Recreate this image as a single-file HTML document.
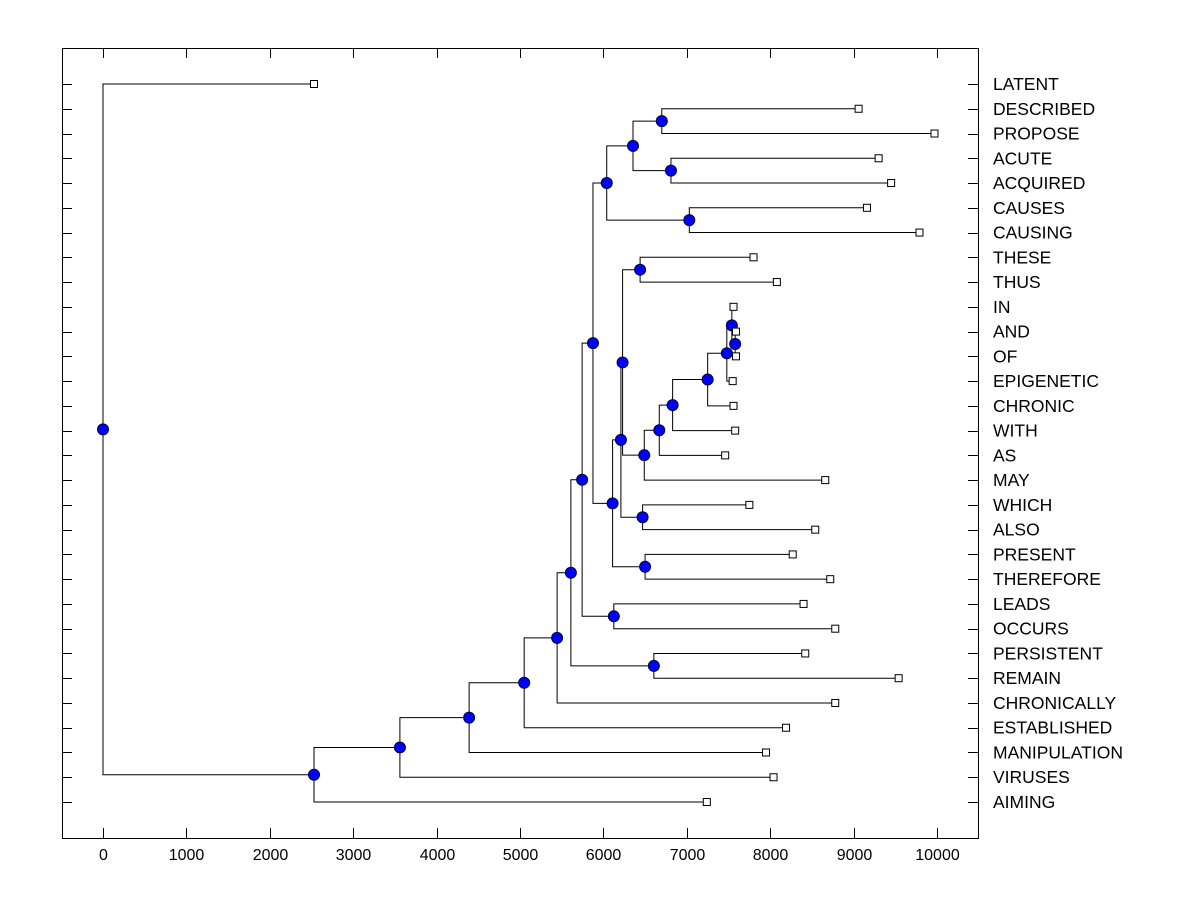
<!DOCTYPE html>
<html><head><meta charset="utf-8"><style>
html,body{margin:0;padding:0;background:#fff;}
svg{display:block;font-family:"Liberation Sans",Arial,sans-serif;}
</style></head><body>
<svg id="chart" width="1200" height="900"></svg>
<script>
const labels=["LATENT","DESCRIBED","PROPOSE","ACUTE","ACQUIRED","CAUSES","CAUSING","THESE","THUS","IN","AND","OF","EPIGENETIC","CHRONIC","WITH","AS","MAY","WHICH","ALSO","PRESENT","THEREFORE","LEADS","OCCURS","PERSISTENT","REMAIN","CHRONICALLY","ESTABLISHED","MANIPULATION","VIRUSES","AIMING"];
const leafValues=[2530,9060,9970,9300,9450,9160,9790,7800,8080,7560,7590,7590,7550,7560,7580,7460,8660,7750,8540,8270,8720,8400,8780,8420,9540,8780,8190,7950,8040,7240];
// merges: leaves 0..29, internal node k has id 30+k
const mergeA=[1,3,30,5,32,7,10,9,37,38,39,40,41,17,35,44,19,45,34,21,48,23,50,52,53,54,55,56,0];
const mergeB=[2,4,31,6,33,8,11,36,12,13,14,15,16,18,42,43,20,46,47,22,49,24,51,25,26,27,28,29,57];
const mergeH=[6700,6810,6355,7030,6040,6440,7580,7540,7480,7250,6830,6670,6490,6470,6230,6210,6500,6110,5875,6125,5745,6605,5610,5445,5050,4390,3560,2530,0];
const xTicks=[0,1000,2000,3000,4000,5000,6000,7000,8000,9000,10000];
</script>
<script>
const NS="http://www.w3.org/2000/svg";
const svg=document.getElementById('chart');
const L=62,R=978,T=48,B=838;
const xs=v=>103+v*0.0834;
const y0=84,dy=(802-84)/29;
const ys=i=>y0+i*dy;
function mk(tag,attrs,parent){const e=document.createElementNS(NS,tag);for(const k in attrs)e.setAttribute(k,attrs[k]);(parent||svg).appendChild(e);return e;}
(function(){
const g=mk('g',{});


const fr=mk('rect',{x:L+0.5,y:T+0.5,width:R-L,height:B-T,fill:'none',stroke:'#000','stroke-width':1},g);


const pos={};
labels.forEach((l,i)=>{pos[i]={x:xs(leafValues[i]),y:ys(i)};});
mergeA.forEach((a,k)=>{
 const pa=pos[a],pb=pos[mergeB[k]];
 pos[30+k]={x:xs(mergeH[k]),y:(pa.y+pb.y)/2};
});
const lines=mk('g',{},g);


mergeA.forEach((a,k)=>{
 const pa=pos[a],pb=pos[mergeB[k]],n=pos[30+k];
 const p=mk('path',{d:`M${pa.x},${pa.y}H${n.x}V${pb.y}H${pb.x}`,fill:'none',stroke:'#000','stroke-width':1},lines);
 
 
});
mergeA.forEach((a,k)=>{
 const n=pos[30+k];
 const c=mk('circle',{cx:n.x,cy:n.y,r:5.5,fill:'#0000ff',stroke:'#000033','stroke-width':1},g);
 
 
});
labels.forEach((l,i)=>{
 const p=pos[i];
 const r=mk('rect',{x:p.x-4+0.5,y:p.y-4+0.5,width:7,height:7,fill:'#fff',stroke:'#000','stroke-width':1},g);
 
 
 const tk=mk('path',{d:`M${L},${Math.round(p.y)+0.5}h10M${R},${Math.round(p.y)+0.5}h-10`,stroke:'#000','stroke-width':1},g);
 
 
 const t=mk('text',{x:993,y:p.y+6,'font-size':17.5,fill:'#000'},g);
 t.textContent=l;
 
 
});
xTicks.forEach(v=>{
 const x=Math.round(xs(v))+0.5;
 const tk=mk('path',{d:`M${x},${B}v-10M${x},${T}v10`,stroke:'#000','stroke-width':1},g);
 
 
 const t=mk('text',{x:x,y:B+22,'font-size':16,'text-anchor':'middle',fill:'#000'},g);
 t.textContent=v;
 
 
});
})();
</script>
</body></html>
